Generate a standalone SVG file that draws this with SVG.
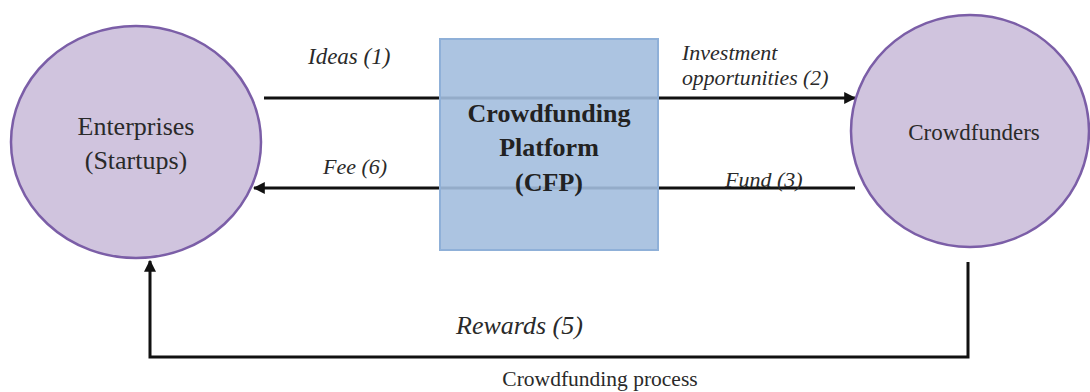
<svg xmlns="http://www.w3.org/2000/svg" width="1090" height="392" viewBox="0 0 1090 392">
<style>
.node{fill:#d0c4de;stroke:#7b5ea7;stroke-width:2.5}
.plat{fill:#a3bede;stroke:#8fb0d8;stroke-width:2;fill-opacity:0.9}
.conn{fill:none;stroke:#111;stroke-width:3}
text{font-family:"Liberation Serif","DejaVu Serif",serif;fill:#2a2a2a}
.t{text-anchor:middle}
.lbl{font-style:italic}
.b{font-weight:bold;fill:#222}
</style>
<defs>
<marker id="ah" viewBox="0 0 10 10" refX="9" refY="5" markerWidth="4" markerHeight="4" orient="auto" markerUnits="strokeWidth">
<path d="M0,0 L10,5 L0,10 z" fill="#111"/>
</marker>
</defs>
<g id="connectors">
<line class="conn" x1="264" y1="98" x2="855" y2="98" marker-end="url(#ah)"/>
<line class="conn" x1="855" y1="188" x2="254" y2="188" marker-end="url(#ah)"/>
<path class="conn" d="M968,262 V357 H150 V261" marker-end="url(#ah)"/>
</g>
<g id="enterprises">
<ellipse class="node" cx="136" cy="142" rx="125" ry="116"/>
<text class="t" x="136" y="135" font-size="26">Enterprises</text>
<text class="t" x="136" y="169" font-size="26">(Startups)</text>
</g>
<g id="platform">
<rect class="plat" x="440" y="39" width="218" height="211"/>
<text class="t b" x="549" y="122" font-size="26">Crowdfunding</text>
<text class="t b" x="549" y="156" font-size="26">Platform</text>
<text class="t b" x="549" y="191" font-size="26">(CFP)</text>
</g>
<g id="crowdfunders">
<ellipse class="node" cx="970" cy="131" rx="119" ry="116"/>
<text class="t" x="974" y="140" font-size="23">Crowdfunders</text>
</g>
<g id="labels">
<text class="lbl" x="308" y="64" font-size="23">Ideas (1)</text>
<text class="lbl" x="682" y="60" font-size="22">Investment</text>
<text class="lbl" x="682" y="85" font-size="21.7">opportunities (2)</text>
<text class="lbl" x="323" y="174" font-size="22">Fee (6)</text>
<text class="lbl" x="725" y="187" font-size="22">Fund (3)</text>
<text class="lbl" x="456" y="334" font-size="26">Rewards (5)</text>
<text class="t" x="600" y="386" font-size="21.5">Crowdfunding process</text>
</g>
</svg>
